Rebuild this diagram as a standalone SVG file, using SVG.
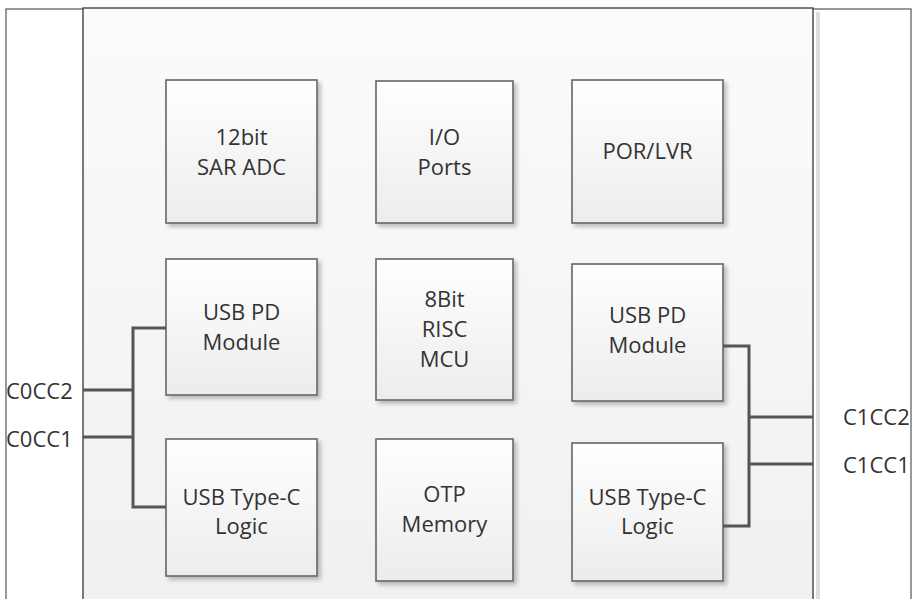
<svg xmlns="http://www.w3.org/2000/svg" width="913" height="599" viewBox="0 0 913 599">
<defs>
<linearGradient id="boxg" x1="0" y1="0" x2="0" y2="1">
<stop offset="0" stop-color="#ffffff"/>
<stop offset="1" stop-color="#ececec"/>
</linearGradient>
<linearGradient id="chipg" x1="0" y1="0" x2="0" y2="1">
<stop offset="0" stop-color="#fbfbfb"/>
<stop offset="1" stop-color="#f0f0f0"/>
</linearGradient>
<filter id="sh" x="-10%" y="-10%" width="130%" height="130%">
<feGaussianBlur in="SourceAlpha" stdDeviation="2"/>
<feOffset dx="3" dy="3" result="b"/>
<feComponentTransfer><feFuncA type="linear" slope="0.25"/></feComponentTransfer>
<feMerge><feMergeNode/><feMergeNode in="SourceGraphic"/></feMerge>
</filter>
</defs>
<style>
.frame{fill:#ffffff;stroke:#555;stroke-width:1.2}
.chip{fill:url(#chipg);stroke:#444;stroke-width:1.4}
.box{fill:url(#boxg);stroke:#666;stroke-width:1.6;filter:url(#sh)}
.t{font-family:"Open Sans","Liberation Sans",sans-serif;font-size:22px;fill:#333;text-anchor:middle}
.lbl{font-family:"Open Sans","Liberation Sans",sans-serif;font-size:22px;fill:#333}
.w{fill:none;stroke:#555;stroke-width:3}
</style>
<rect width="913" height="599" fill="#ffffff"/>
<rect class="frame" x="6" y="9" width="905" height="600"/>
<rect x="816" y="12" width="4" height="600" fill="#ddd"/>
<rect class="chip" x="83" y="8" width="730" height="600"/>

<g id="adc"><rect class="box" x="166" y="80" width="151" height="143"/><text class="t" x="241.5" y="145">12bit</text><text class="t" x="241.5" y="175">SAR ADC</text></g>
<g id="io"><rect class="box" x="376" y="81" width="137" height="142"/><text class="t" x="444.5" y="145">I/O</text><text class="t" x="444.5" y="175">Ports</text></g>
<g id="por"><rect class="box" x="572" y="80" width="151" height="143"/><text class="t" x="647.5" y="159">POR/LVR</text></g>

<g id="pd0"><rect class="box" x="166" y="259" width="151" height="136"/><text class="t" x="241.5" y="320">USB PD</text><text class="t" x="241.5" y="350">Module</text></g>
<g id="mcu"><rect class="box" x="376" y="259" width="137" height="141"/><text class="t" x="444.5" y="307">8Bit</text><text class="t" x="444.5" y="337">RISC</text><text class="t" x="444.5" y="367">MCU</text></g>
<g id="pd1"><rect class="box" x="572" y="264" width="151" height="137"/><text class="t" x="647.5" y="323">USB PD</text><text class="t" x="647.5" y="353">Module</text></g>

<g id="tc0"><rect class="box" x="166" y="439" width="151" height="137"/><text class="t" x="241.5" y="505">USB Type-C</text><text class="t" x="241.5" y="534">Logic</text></g>
<g id="otp"><rect class="box" x="376" y="439" width="137" height="142"/><text class="t" x="444.5" y="502">OTP</text><text class="t" x="444.5" y="532">Memory</text></g>
<g id="tc1"><rect class="box" x="572" y="443" width="151" height="138"/><text class="t" x="647.5" y="505">USB Type-C</text><text class="t" x="647.5" y="534">Logic</text></g>

<g id="connectors">
<polyline class="w" points="166,328 133,328 133,507 166,507"/>
<line class="w" x1="83" y1="390" x2="133" y2="390"/>
<line class="w" x1="83" y1="437" x2="133" y2="437"/>
<polyline class="w" points="723,346 749,346 749,526 723,526"/>
<line class="w" x1="749" y1="417" x2="813" y2="417"/>
<line class="w" x1="749" y1="464" x2="813" y2="464"/>
</g>

<g id="labels">
<text class="lbl" x="6" y="399">C0CC2</text>
<text class="lbl" x="6" y="447">C0CC1</text>
<text class="lbl" x="843" y="425">C1CC2</text>
<text class="lbl" x="843" y="473">C1CC1</text>
</g>
</svg>
